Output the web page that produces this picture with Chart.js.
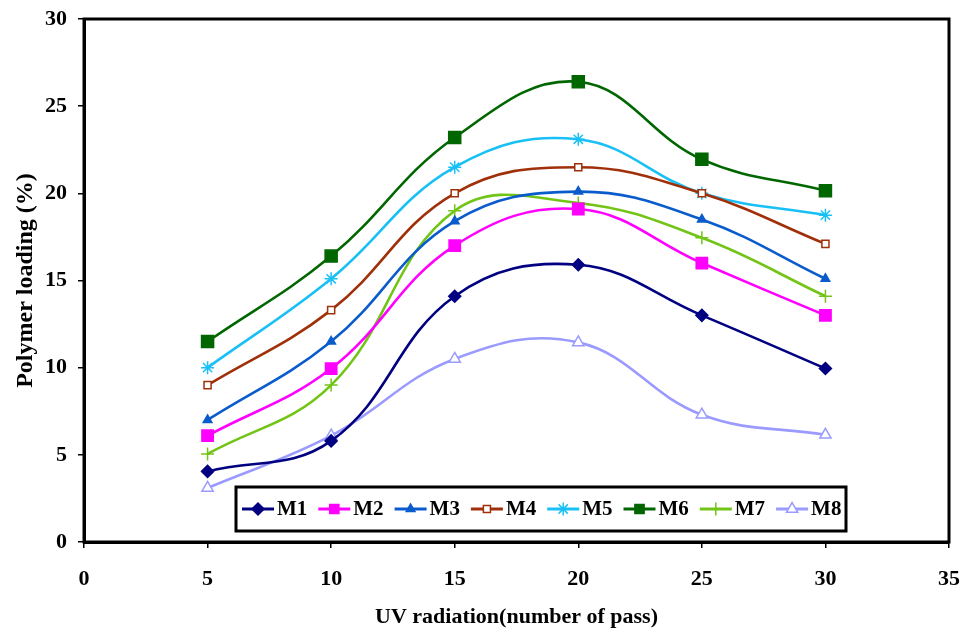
<!DOCTYPE html>
<html>
<head>
<meta charset="utf-8">
<script src="https://cdn.jsdelivr.net/npm/chart.js@4"></script>
<style>
  html, body { margin: 0; padding: 0; background: #fff; }
  #wrap { width: 961px; height: 632px; }
</style>
</head>
<body>
<div id="wrap"><canvas id="loading" width="961" height="632"></canvas></div>
<script>
// UV radiation (number of pass)
var passes = [5, 10, 15, 20, 25, 30];

// polymer loading (%) per membrane
var m1 = [4.05, 5.8, 14.1, 15.9, 13.0, 9.95];
var m2 = [6.1, 9.95, 17.0, 19.1, 16.0, 13.0];
var m3 = [7.0, 11.5, 18.4, 20.1, 18.5, 15.1];
var m4 = [9.0, 13.3, 20.0, 21.5, 20.0, 17.1];
var m5 = [10.0, 15.1, 21.5, 23.1, 20.0, 18.75];
var m6 = [11.5, 16.4, 23.2, 26.4, 21.95, 20.15];
var m7 = [5.05, 9.0, 19.0, 19.45, 17.45, 14.1];
var m8 = [3.1, 6.1, 10.5, 11.45, 7.3, 6.15];

var names = ['M1', 'M2', 'M3', 'M4', 'M5', 'M6', 'M7', 'M8'];
var yTicks = [0, 5, 10, 15, 20, 25, 30];

var FONT = "'Liberation Serif', 'Times New Roman', serif";

function pts(vals) {
	var out = [];
	for (var i = 0; i < passes.length; i++) {
		out.push({ x: passes[i], y: vals[i] });
	}
	return out;
}

function series(label, vals, color, style, radius, fill) {
	return {
		label: label,
		data: pts(vals),
		borderColor: color,
		backgroundColor: color,
		pointBackgroundColor: fill || color,
		pointBorderColor: color,
		pointBorderWidth: 1.5,
		pointStyle: style,
		pointRadius: radius,
		pointHoverRadius: radius,
		borderWidth: 2.6,
		tension: 0.4,
		fill: false
	};
}

var datasets = [
	series(names[0], m1, '#000080', 'rectRot', 6),
	series(names[1], m2, '#ff00ff', 'rect', 8),
	series(names[2], m3, '#0a5ccc', 'triangle', 5),
	series(names[3], m4, '#a0300a', 'rect', 5, '#ffffff'),
	series(names[4], m5, '#19c0f5', 'star', 6.5),
	series(names[5], m6, '#006600', 'rect', 8.5),
	series(names[6], m7, '#72c416', 'cross', 6.5),
	series(names[7], m8, '#9a9aff', 'triangle', 6.5, '#ffffff')
];

// frame around the plot + boxed legend inside the plot area
var framePlugin = {
	id: 'frame',
	afterDraw: function (chart) {
		var ctx = chart.ctx;
		var a = chart.chartArea;
		ctx.save();
		ctx.strokeStyle = '#000';
		ctx.lineWidth = 3;
		ctx.strokeRect(a.left, a.top, a.right - a.left, a.bottom - a.top);

		// legend box
		var bx = 236, by = 487, bw = 610, bh = 44;
		ctx.fillStyle = '#fff';
		ctx.fillRect(bx, by, bw, bh);
		ctx.lineWidth = 3;
		ctx.strokeRect(bx, by, bw, bh);

		var cy = by + bh / 2;
		ctx.font = 'bold 21px ' + FONT;
		ctx.textBaseline = 'middle';
		ctx.textAlign = 'left';
		for (var i = 0; i < chart.data.datasets.length; i++) {
			var ds = chart.data.datasets[i];
			var sx = 242 + 76.3 * i;
			ctx.strokeStyle = ds.borderColor;
			ctx.lineWidth = 3;
			ctx.beginPath();
			ctx.moveTo(sx, cy);
			ctx.lineTo(sx + 32, cy);
			ctx.stroke();
			ctx.fillStyle = ds.pointBackgroundColor;
			ctx.strokeStyle = ds.pointBorderColor;
			ctx.lineWidth = 1.5;
			Chart.helpers.drawPoint(ctx, {
				pointStyle: ds.pointStyle,
				radius: Math.min(ds.pointRadius, 6.5),
				borderWidth: 1.5,
				rotation: 0
			}, sx + 16, cy);
			ctx.fillStyle = '#000';
			ctx.fillText(ds.label, sx + 35, cy + 1);
		}
		ctx.restore();
	}
};

var ctx = document.getElementById('loading').getContext('2d');
window.LoadingChart = new Chart(ctx, {
	type: 'line',
	data: { datasets: datasets },
	plugins: [framePlugin],
	options: {
		responsive: false,
		animation: false,
		layout: {
			padding: { left: 8, right: 12, top: 19, bottom: 0 }
		},
		plugins: {
			legend: { display: false },
			tooltip: { enabled: false },
			title: { display: false }
		},
		scales: {
			x: {
				type: 'linear',
				min: 0,
				max: 35,
				ticks: {
					stepSize: 5,
					color: '#000',
					padding: 18,
					maxRotation: 0,
					font: { family: FONT, size: 22, weight: 'bold' }
				},
				grid: {
					display: true,
					drawOnChartArea: false,
					drawTicks: true,
					tickLength: 6,
					color: '#000',
					lineWidth: 1.5
				},
				border: { display: true, color: '#000', width: 3 },
				title: {
					display: true,
					text: 'UV radiation(number of pass)',
					color: '#000',
					padding: { top: 2, bottom: 1 },
					font: { family: FONT, size: 22, weight: 'bold' }
				},
				afterFit: function (scale) {
					scale.height = 90;
					scale.paddingLeft = 0;
					scale.paddingRight = 0;
				}
			},
			y: {
				min: 0,
				max: 30,
				afterBuildTicks: function (scale) {
					scale.ticks = yTicks.map(function (v) { return { value: v }; });
				},
				ticks: {
					color: '#000',
					padding: 11,
					font: { family: FONT, size: 22, weight: 'bold' }
				},
				grid: {
					display: true,
					drawOnChartArea: false,
					drawTicks: true,
					tickLength: 6,
					color: '#000',
					lineWidth: 1.5
				},
				border: { display: true, color: '#000', width: 3 },
				title: {
					display: true,
					text: 'Polymer loading (%)',
					color: '#000',
					padding: { top: 3, bottom: 2 },
					font: { family: FONT, size: 24, weight: 'bold' }
				},
				afterFit: function (scale) {
					scale.width = 76;
					scale.paddingTop = 0;
					scale.paddingBottom = 0;
				}
			}
		}
	}
});
</script>
</body>
</html>
